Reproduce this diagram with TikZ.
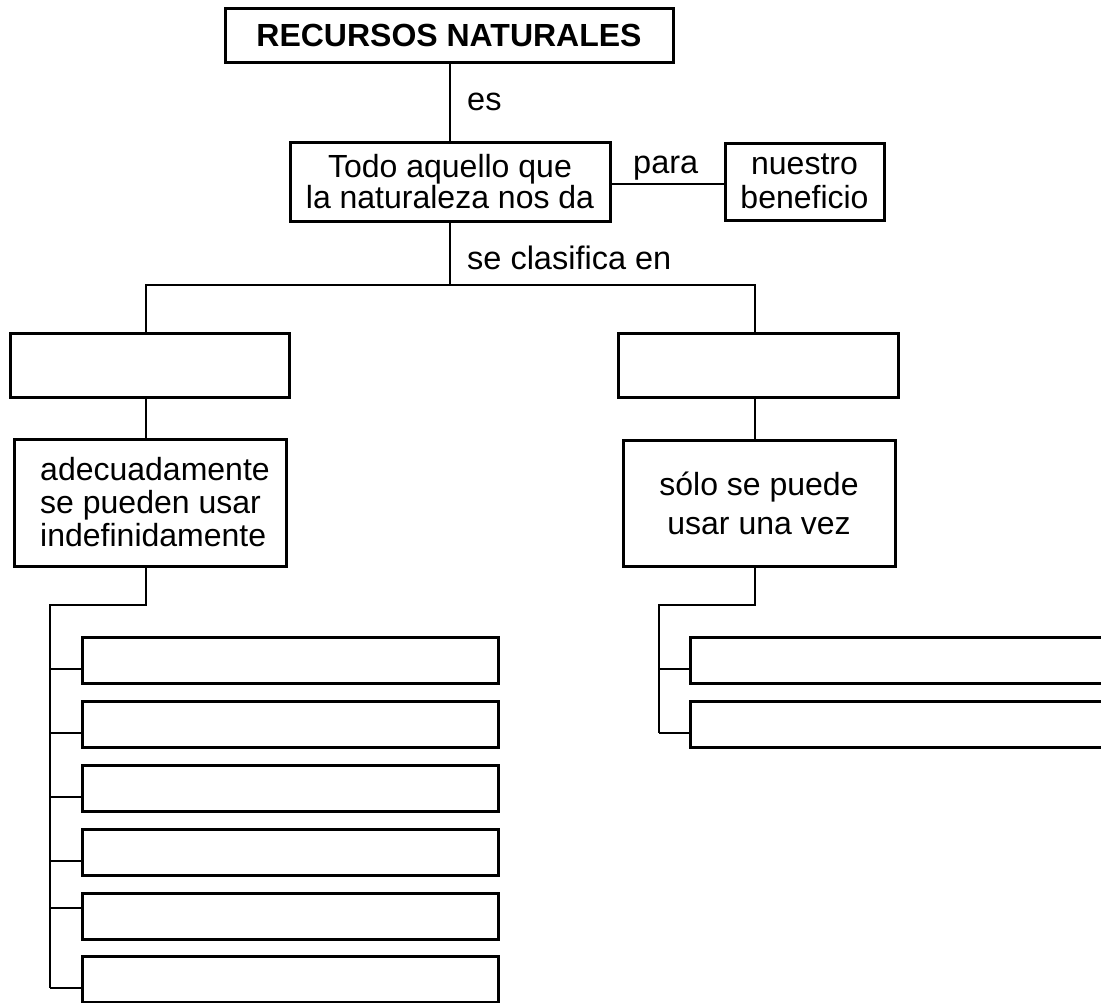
\documentclass[tikz,border=0pt]{standalone}
\usepackage{fontspec}
\setmainfont{Liberation Sans}
\begin{document}
\begin{tikzpicture}[x=1pt,y=-1pt,
  box/.style={draw, line width=3pt, inner sep=0pt, align=center, font=\fontsize{32}{31}\selectfont},
  listbox/.style={draw, line width=3pt, inner sep=0pt, minimum height=46},
  link/.style={line width=2pt},
  lbl/.style={anchor=base west, inner sep=0pt, font=\fontsize{32.5}{31}\selectfont}]
\useasboundingbox (0,0) rectangle (1101,1002);
\clip (0,0) rectangle (1101,1002);
\fill[white] (0,0) rectangle (1101,1002);

% main nodes
\node[box, minimum width=448, minimum height=54, font=\bfseries\fontsize{32}{32}\selectfont] (title) at (449,35) {RECURSOS NATURALES};
\node[box, minimum width=320, minimum height=79] (mid) at (450,181.5) {Todo aquello que\\la naturaleza nos da};
\node[box, minimum width=159, minimum height=77, font=\fontsize{32}{34}\selectfont] (ben) at (804.5,181.5) {nuestro\\beneficio};
\node[box, minimum width=279, minimum height=64] (L1) at (149.5,365) {};
\node[box, minimum width=280, minimum height=64] (R1) at (758,365) {};
\node[box, minimum width=272, minimum height=127, font=\fontsize{32}{33}\selectfont, align=left] (Ladec) at (150,502.5) {\hspace*{10pt}adecuadamente\\\hspace*{10pt}se pueden usar\\\hspace*{10pt}indefinidamente};
\node[box, minimum width=272, minimum height=126, font=\fontsize{32}{39}\selectfont] (Rsolo) at (759,503) {sólo se puede\\usar una vez};

% list boxes
\node[listbox, minimum width=416] (a1) at (290,660) {};
\node[listbox, minimum width=416] (a2) at (290,724) {};
\node[listbox, minimum width=416] (a3) at (290,788) {};
\node[listbox, minimum width=416] (a4) at (290,852) {};
\node[listbox, minimum width=416] (a5) at (290,916) {};
\node[listbox, minimum width=416] (a6) at (290,979) {};
\node[listbox, minimum width=440] (b1) at (910,660) {};
\node[listbox, minimum width=440] (b2) at (910,724) {};

% labels
\node[lbl] (es) at (467,110) {es};
\node[lbl] (para) at (633,173) {para};
\node[lbl] (clas) at (467,269) {se clasifica en};

% connectors
\coordinate (cL) at (146,285);
\coordinate (cR) at (755,285);
\coordinate (jL) at (50,605);
\coordinate (jR) at (659,605);
\draw[link] (mid.north |- title.south) -- (mid.north);
\draw[link] (mid.east |- 0,184) -- (ben.west |- 0,184);
\draw[link] (mid.south) -- (mid.south |- cL);
\draw[link] (cL |- L1.north) -- (cL) -- (cR) -- (cR |- R1.north);
\draw[link] (cL |- L1.south) -- (cL |- Ladec.north);
\draw[link] (cR |- R1.south) -- (cR |- Rsolo.north);
\draw[link] (cL |- Ladec.south) -- (cL |- jL) -- (jL) -- (50,988);
\draw[link] (cR |- Rsolo.south) -- (cR |- jR) -- (jR) -- (659,733);
\foreach \n/\y in {a1/669, a2/733, a3/797, a4/861, a5/908, a6/988}
  \draw[link] (50,\y) -- (\n.west |- 50,\y);
\foreach \n/\y in {b1/669, b2/733}
  \draw[link] (659,\y) -- (\n.west |- 659,\y);
\end{tikzpicture}
\end{document}
